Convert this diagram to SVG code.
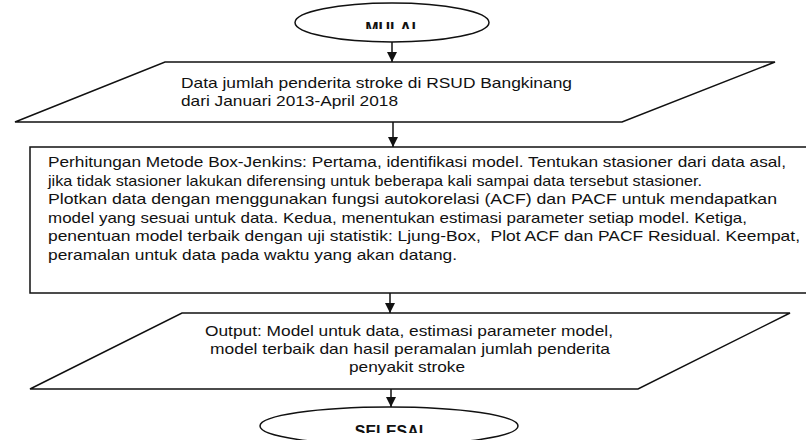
<svg xmlns="http://www.w3.org/2000/svg" width="806" height="440" viewBox="0 0 806 440">
<style>
.sh{fill:#fff;stroke:#111;stroke-width:1.5}
.t{font-family:"Liberation Sans",Arial,sans-serif;font-size:15px;fill:#111;white-space:pre}
.b{font-family:"Liberation Sans",Arial,sans-serif;font-size:16px;font-weight:bold;fill:#111}
.c{stroke:#111;stroke-width:1.5;fill:none;marker-end:url(#ah)}
</style>
<defs>
<marker id="ah" viewBox="0 0 10 10" refX="10" refY="5" markerWidth="10" markerHeight="10" markerUnits="userSpaceOnUse" orient="auto">
<path d="M0,0 L10,5 L0,10 z" fill="#111"/>
</marker>
<clipPath id="cm"><rect x="290" y="0" width="210" height="29"/></clipPath>
<clipPath id="cs"><rect x="250" y="400" width="280" height="33"/></clipPath>
</defs>
<rect width="806" height="440" fill="#fff"/>
<g id="connectors">
<line class="c" x1="392" y1="42" x2="392" y2="62"/>
<line class="c" x1="393" y1="122" x2="393" y2="147"/>
<line class="c" x1="390" y1="293" x2="390" y2="313"/>
<line class="c" x1="391" y1="389" x2="391" y2="407"/>
</g>
<g id="mulai">
<ellipse class="sh" cx="392" cy="22.5" rx="97" ry="19.5"/>
<text class="b" x="390.5" y="33.5" text-anchor="middle" clip-path="url(#cm)">MULAI</text>
</g>
<g id="data">
<polygon class="sh" points="165,62 775,62 622,122 15,122"/>
<text class="t" x="181" y="88" textLength="391" lengthAdjust="spacingAndGlyphs">Data jumlah penderita stroke di RSUD Bangkinang</text>
<text class="t" x="181" y="106" textLength="217" lengthAdjust="spacingAndGlyphs">dari Januari 2013-April 2018</text>
</g>
<g id="proses">
<rect class="sh" x="30" y="147" width="790" height="146"/>
<text class="t" x="48" y="167" textLength="738" lengthAdjust="spacingAndGlyphs">Perhitungan Metode Box-Jenkins: Pertama, identifikasi model. Tentukan stasioner dari data asal,</text>
<text class="t" x="48" y="185.5" textLength="654" lengthAdjust="spacingAndGlyphs">jika tidak stasioner lakukan diferensing untuk beberapa kali sampai data tersebut stasioner.</text>
<text class="t" x="48" y="204" textLength="729" lengthAdjust="spacingAndGlyphs">Plotkan data dengan menggunakan fungsi autokorelasi (ACF) dan PACF untuk mendapatkan</text>
<text class="t" x="48" y="222.5" textLength="699" lengthAdjust="spacingAndGlyphs">model yang sesuai untuk data. Kedua, menentukan estimasi parameter setiap model. Ketiga,</text>
<text class="t" x="48" y="241" textLength="752" lengthAdjust="spacingAndGlyphs">penentuan model terbaik dengan uji statistik: Ljung-Box,  Plot ACF dan PACF Residual. Keempat,</text>
<text class="t" x="48" y="259.5" textLength="409" lengthAdjust="spacingAndGlyphs">peramalan untuk data pada waktu yang akan datang.</text>
</g>
<g id="output">
<polygon class="sh" points="182,313 790,313 638,389 30,389"/>
<text class="t" x="205" y="336" textLength="408" lengthAdjust="spacingAndGlyphs">Output: Model untuk data, estimasi parameter model,</text>
<text class="t" x="210" y="354" textLength="400" lengthAdjust="spacingAndGlyphs">model terbaik dan hasil peramalan jumlah penderita</text>
<text class="t" x="349" y="372" textLength="116" lengthAdjust="spacingAndGlyphs">penyakit stroke</text>
</g>
<g id="selesai">
<ellipse class="sh" cx="389" cy="426" rx="129" ry="19"/>
<text class="b" x="389" y="437" text-anchor="middle" clip-path="url(#cs)">SELESAI</text>
</g>
</svg>
